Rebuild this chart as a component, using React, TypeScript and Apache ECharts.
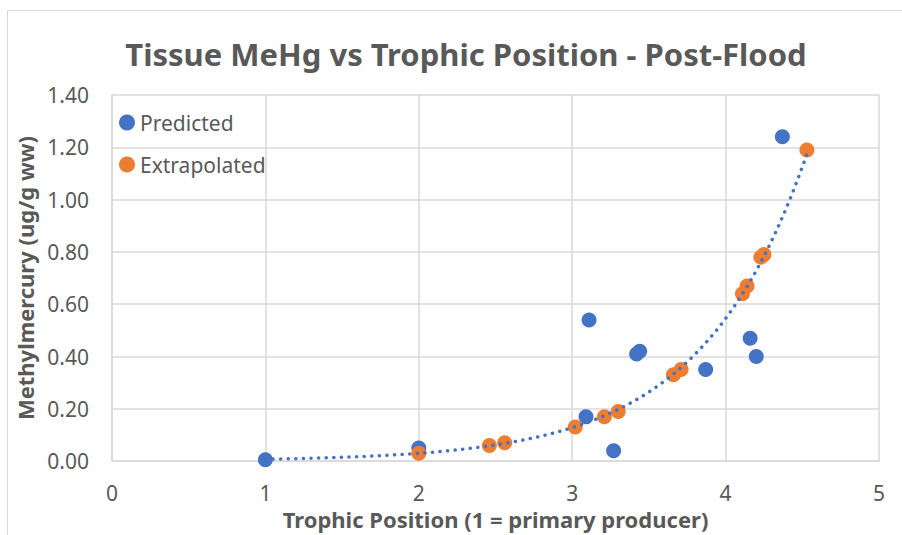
import React, { useEffect, useRef } from "react";
import * as echarts from "echarts";

const titleText = "Tissue MeHg vs Trophic Position - Post-Flood";
const xAxisTitle = "Trophic Position (1 = primary producer)";
const yAxisTitle = "Methylmercury (ug/g ww)";

const predictedX = [1.0, 2.0, 3.09, 3.11, 3.27, 3.42, 3.44, 3.87, 4.16, 4.2, 4.37];
const predictedY = [0.005, 0.05, 0.17, 0.54, 0.04, 0.41, 0.42, 0.35, 0.47, 0.4, 1.24];

const extrapolatedX = [2.0, 2.46, 2.56, 3.02, 3.21, 3.3, 3.66, 3.71, 4.11, 4.14, 4.23, 4.25, 4.53];
const extrapolatedY = [0.03, 0.06, 0.07, 0.13, 0.17, 0.19, 0.33, 0.35, 0.64, 0.67, 0.78, 0.79, 1.19];

const trendStartX = 1.0;
const trendEndX = 4.53;

// exponential least-squares fit (ln y = ln a + b x) over extrapolated points
function fitExp(xs: number[], ys: number[]) {
  const n = xs.length;
  let sx = 0, sy = 0, sxx = 0, sxy = 0;
  for (let i = 0; i < n; i++) {
    const ly = Math.log(ys[i]);
    sx += xs[i]; sy += ly; sxx += xs[i] * xs[i]; sxy += xs[i] * ly;
  }
  const b = (n * sxy - sx * sy) / (n * sxx - sx * sx);
  const lnA = (sy - b * sx) / n;
  return { a: Math.exp(lnA), b };
}

export default function App() {
  const ref = useRef<HTMLDivElement>(null);
  useEffect(() => {
    document.body.style.margin = "0";
    if (!ref.current) return;
    const chart = echarts.init(ref.current, undefined, { renderer: "svg" });
    const { a, b } = fitExp(extrapolatedX, extrapolatedY);
    const trend: number[][] = [];
    const steps = 100;
    for (let i = 0; i <= steps; i++) {
      const x = trendStartX + ((trendEndX - trendStartX) * i) / steps;
      trend.push([x, a * Math.exp(b * x)]);
    }
    const font = "'Noto Sans', sans-serif";
    const txt = "#595959";
    const grid = "#d9d9d9";
    chart.setOption({
      animation: false,
      backgroundColor: "#ffffff",
      title: {
        text: titleText,
        left: 461,
        top: 33,
        textAlign: "center",
        textStyle: { fontFamily: font, fontSize: 31, fontWeight: "bold", color: txt },
      },
      graphic: [
        {
          type: "rect",
          shape: { x: 7.5, y: 10.5, width: 1000, height: 1000 },
          style: { fill: "none", stroke: grid, lineWidth: 1 },
          silent: true,
        },
      ],
      legend: {
        orient: "vertical",
        left: 114,
        top: 107,
        itemWidth: 16,
        itemHeight: 16,
        itemGap: 21,
        data: [
          { name: "Predicted", icon: "circle" },
          { name: "Extrapolated", icon: "circle" },
        ],
        textStyle: { fontFamily: font, fontSize: 21, color: txt },
      },
      grid: { left: 112, right: 23, top: 95, bottom: 72 },
      xAxis: {
        type: "value",
        min: 0,
        max: 5,
        interval: 1,
        name: xAxisTitle,
        nameLocation: "middle",
        nameGap: 46,
        nameTextStyle: { fontFamily: font, fontSize: 22, lineHeight: 22, fontWeight: "bold", color: txt },
        axisLine: { show: true, lineStyle: { color: grid, width: 1.5 } },
        axisTick: { show: false },
        axisLabel: { fontFamily: font, fontSize: 21, color: txt, margin: 21 },
        splitLine: { show: true, lineStyle: { color: grid, width: 1.5 } },
      },
      yAxis: {
        type: "value",
        min: 0,
        max: 1.4,
        interval: 0.2,
        name: yAxisTitle,
        nameLocation: "middle",
        nameGap: 66,
        nameTextStyle: { fontFamily: font, fontSize: 22, fontWeight: "bold", color: txt },
        axisLine: { show: true, lineStyle: { color: grid, width: 1.5 } },
        axisTick: { show: false },
        axisLabel: {
          fontFamily: font,
          fontSize: 21,
          color: txt,
          margin: 23,
          formatter: (v: number) => v.toFixed(2),
        },
        splitLine: { show: true, lineStyle: { color: grid, width: 1.5 } },
      },
      series: [
        {
          name: "Trend",
          type: "line",
          data: trend,
          showSymbol: false,
          symbol: "none",
          smooth: false,
          lineStyle: { color: "#4472C4", width: 3.5, type: [0.1, 7.5], cap: "round" },
          z: 3,
          silent: true,
        },
        {
          name: "Predicted",
          type: "scatter",
          data: predictedX.map((x, i) => [x, predictedY[i]]),
          symbol: "circle",
          symbolSize: 15,
          itemStyle: { color: "#4472C4", opacity: 1 },
          z: 1,
        },
        {
          name: "Extrapolated",
          type: "scatter",
          data: extrapolatedX.map((x, i) => [x, extrapolatedY[i]]),
          symbol: "circle",
          symbolSize: 15,
          itemStyle: { color: "#ED7D31", opacity: 1 },
          z: 2,
        },
      ],
    });
    return () => chart.dispose();
  }, []);
  return <div ref={ref} style={{ width: 902, height: 535 }} />;
}
